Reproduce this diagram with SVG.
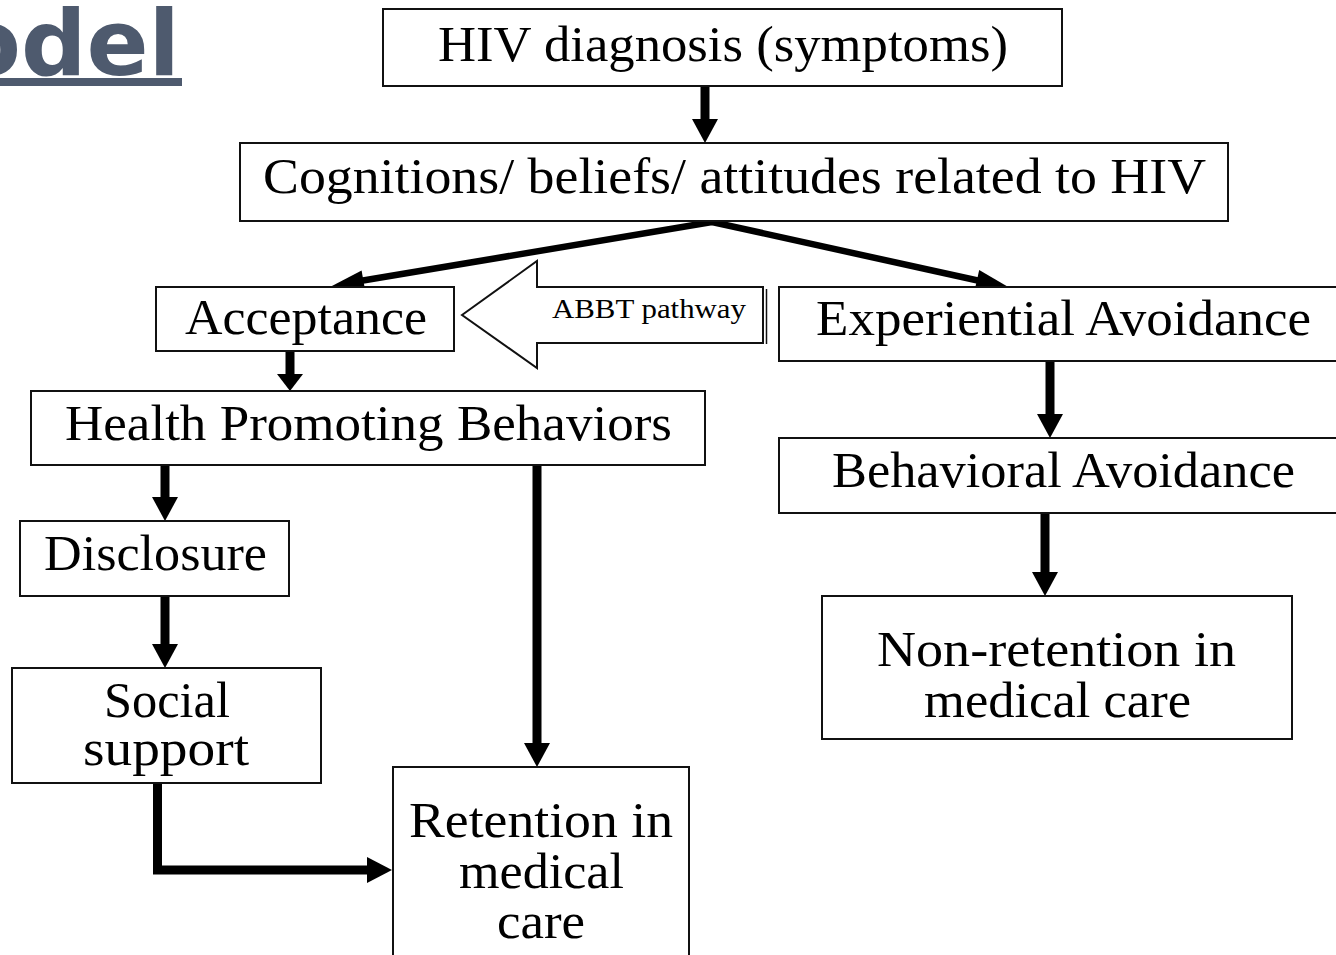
<svg xmlns="http://www.w3.org/2000/svg" width="1336" height="955" viewBox="0 0 1336 955">
<style>
.box{fill:#fff;stroke:#111;stroke-width:2}
.t{font-family:"Liberation Serif","Times New Roman",serif;font-size:50px;fill:#000}
.s{font-family:"Liberation Serif","Times New Roman",serif;font-size:27px;fill:#000}
.ttl{font-family:"DejaVu Sans",Verdana,sans-serif;font-weight:bold;font-size:90px;fill:#4e5a6e}
.sh{stroke:#000;stroke-width:9;fill:none}
.dg{stroke:#000;stroke-width:6.5;fill:none}
.hd{fill:#000}
</style>
<rect width="1336" height="955" fill="#fff"/>
<g id="title">
<text class="ttl" x="-42" y="75" textLength="222" lengthAdjust="spacingAndGlyphs">odel</text>
<rect x="0" y="78" width="182" height="8" fill="#4e5a6e"/>
</g>
<g id="connectors">
<line class="sh" x1="705" y1="86" x2="705" y2="121"/><polygon class="hd" points="692,119 718,119 705,143"/>
<polyline class="dg" points="712,222 360,281"/><polygon class="hd" points="330,287 361.6,270.5 365.4,292.1"/>
<polyline class="dg" points="712,222 980,281"/><polygon class="hd" points="1010,288 974.4,291.4 979.2,270"/>
<line class="sh" x1="290" y1="351" x2="290" y2="376"/><polygon class="hd" points="277,374 303,374 290,391"/>
<line class="sh" x1="1050" y1="361" x2="1050" y2="416"/><polygon class="hd" points="1037,414 1063,414 1050,438"/>
<line class="sh" x1="1045" y1="513" x2="1045" y2="574"/><polygon class="hd" points="1032,572 1058,572 1045,596"/>
<line class="sh" x1="165" y1="465" x2="165" y2="499"/><polygon class="hd" points="152,497 178,497 165,521"/>
<line class="sh" x1="165" y1="596" x2="165" y2="646"/><polygon class="hd" points="152,644 178,644 165,668"/>
<line class="sh" x1="537" y1="465" x2="537" y2="745"/><polygon class="hd" points="524,743 550,743 537,767"/>
<polyline class="sh" points="157.5,783 157.5,870 369,870"/><polygon class="hd" points="367,857 367,883 392,870"/>
</g>
<g id="hiv"><rect class="box" x="383" y="9" width="679" height="77"/><text class="t" x="438" y="61" textLength="570" lengthAdjust="spacingAndGlyphs">HIV diagnosis (symptoms)</text></g>
<g id="cognitions"><rect class="box" x="240" y="143" width="988" height="78"/><text class="t" x="263" y="193" textLength="943" lengthAdjust="spacingAndGlyphs">Cognitions/ beliefs/ attitudes related to HIV</text></g>
<g id="acceptance"><rect class="box" x="156" y="287" width="298" height="64"/><text class="t" x="185" y="334" textLength="242" lengthAdjust="spacingAndGlyphs">Acceptance</text></g>
<g id="abbt">
<path class="box" d="M462,315 L537,261 L537,287 L763,287 L763,343 L537,343 L537,368 Z"/>
<line x1="766.5" y1="289" x2="766.5" y2="344" stroke="#111" stroke-width="1.5"/>
<text class="s" x="552" y="318" textLength="194" lengthAdjust="spacingAndGlyphs">ABBT pathway</text>
</g>
<g id="experiential"><rect class="box" x="779" y="287" width="570" height="74"/><text class="t" x="816" y="335" textLength="495" lengthAdjust="spacingAndGlyphs">Experiential Avoidance</text></g>
<g id="health"><rect class="box" x="31" y="391" width="674" height="74"/><text class="t" x="65" y="440" textLength="607" lengthAdjust="spacingAndGlyphs">Health Promoting Behaviors</text></g>
<g id="behavioral"><rect class="box" x="779" y="438" width="570" height="75"/><text class="t" x="832" y="487" textLength="463" lengthAdjust="spacingAndGlyphs">Behavioral Avoidance</text></g>
<g id="disclosure"><rect class="box" x="20" y="521" width="269" height="75"/><text class="t" x="44" y="570" textLength="223" lengthAdjust="spacingAndGlyphs">Disclosure</text></g>
<g id="nonretention"><rect class="box" x="822" y="596" width="470" height="143"/>
<text class="t" x="877" y="666" textLength="359" lengthAdjust="spacingAndGlyphs">Non-retention in</text>
<text class="t" x="924" y="717" textLength="267" lengthAdjust="spacingAndGlyphs">medical care</text></g>
<g id="social"><rect class="box" x="12" y="668" width="309" height="115"/>
<text class="t" x="104" y="717" textLength="126" lengthAdjust="spacingAndGlyphs">Social</text>
<text class="t" x="83" y="765" textLength="166" lengthAdjust="spacingAndGlyphs">support</text></g>
<g id="retention"><rect class="box" x="393" y="767" width="296" height="200"/>
<text class="t" x="409" y="837" textLength="264" lengthAdjust="spacingAndGlyphs">Retention in</text>
<text class="t" x="459" y="888" textLength="165" lengthAdjust="spacingAndGlyphs">medical</text>
<text class="t" x="497" y="938" textLength="88" lengthAdjust="spacingAndGlyphs">care</text></g>
</svg>
